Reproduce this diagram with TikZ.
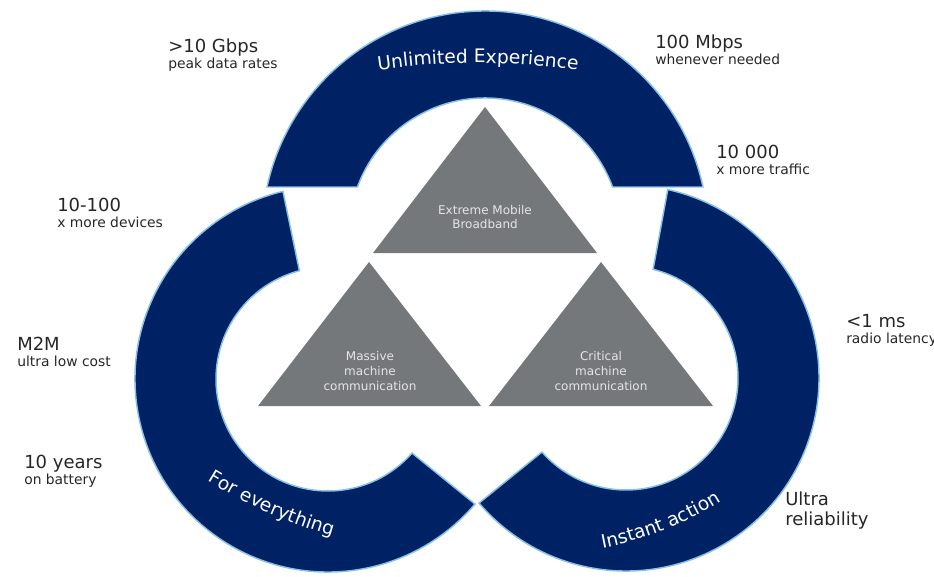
\documentclass[tikz,border=0pt]{standalone}
\usepackage{fontspec}
\setmainfont{DejaVu Sans}
\usetikzlibrary{positioning, decorations.text}

\definecolor{ringblue}{HTML}{002163}
\definecolor{ringedge}{HTML}{86C0E8}
\definecolor{triangrey}{HTML}{75787B}
\definecolor{labelgrey}{HTML}{262626}

\begin{document}
\begin{tikzpicture}[x=0.75pt, y=0.75pt,
  ring/.style={fill=ringblue, draw=ringedge, line width=1.1pt},
  tri/.style={fill=triangrey},
  tritext/.style={text=white!90!black, align=center, inner sep=0pt, font=\fontsize{9}{10.9}\selectfont},
  head/.style={anchor=base west, inner sep=0pt, text=labelgrey, font=\fontsize{13.5}{15}\selectfont},
  sub/.style={anchor=base west, inner sep=0pt, text=labelgrey, font=\fontsize{10.4}{12}\selectfont},
  ringtext/.style={decorate, decoration={text along path, text align=center,
    text={|\fontsize{14}{14}\selectfont\color{white}|#1}}}]

\useasboundingbox (0,0) rectangle (934,576);

% Centres of the three bands
\coordinate (topC) at (485,342);
\coordinate (leftC) at (328,197);
\coordinate (rightC) at (626,198);

% Bands
\path[ring] ([shift={(topC)}]12.17:223) arc[start angle=12.17, end angle=167.83, radius=223]
  -- ([shift={(topC)}]159.78:136) arc[start angle=159.78, end angle=20.22, radius=136] -- cycle;
\path[ring] ([shift={(leftC)}]103.5:193) arc[start angle=103.5, end angle=319.6, radius=193]
  -- ([shift={(leftC)}]318.6:112) arc[start angle=318.6, end angle=104.8, radius=112] -- cycle;
\path[ring] ([shift={(rightC)}]77.5:193) arc[start angle=77.5, end angle=-139.6, radius=193]
  -- ([shift={(rightC)}]-138.6:112) arc[start angle=-138.6, end angle=76, radius=112] -- cycle;

% Band titles
\path[ringtext={Unlimited Experience}] ([shift={(478,-187)}]100:700) arc[start angle=100, end angle=80, radius=700];
\path[ringtext={For everything}] ([shift={(471.4,520.3)}]236:500) arc[start angle=236, end angle=256, radius=500];
\path[ringtext={Instant action}] ([shift={(534.3,375.3)}]277:354) arc[start angle=277, end angle=306, radius=354];

% Triangles
\fill[tri] (485,469) -- (597,323) -- (373,323) -- cycle;
\fill[tri] (369,314) -- (481,170) -- (258,170) -- cycle;
\fill[tri] (601,314) -- (713,170) -- (489,170) -- cycle;

\node[tritext] (embb) at (485,359) {Extreme Mobile\\Broadband};
\node[tritext] (mmtc) at (370,205) {Massive\\machine\\communication};
\node[tritext] (cmtc) at (601,205) {Critical\\machine\\communication};

% Figures round the bands
\node[head] (gbps) at (168,523) {>10 Gbps};
\node[sub] (gbpsSub) at ([yshift=-12pt]gbps.base west) {peak data rates};

\node[head] (devices) at (57,365) {10-100};
\node[sub] (devicesSub) at ([yshift=-12pt]devices.base west) {x more devices};

\node[head] (mtm) at (17,226) {M2M};
\node[sub] (mtmSub) at ([yshift=-12pt]mtm.base west) {ultra low cost};

\node[head] (years) at (24,108) {10 years};
\node[sub] (yearsSub) at ([yshift=-12pt]years.base west) {on battery};

\node[head] (mbps) at (655,527) {100 Mbps};
\node[sub] (mbpsSub) at ([yshift=-12pt]mbps.base west) {whenever needed};

\node[head] (traffic) at (716,418) {10 000};
\node[sub] (trafficSub) at ([yshift=-12pt]traffic.base west) {x more traffic};

\node[head] (latency) at (846,249) {<1 ms};
\node[sub] (latencySub) at ([yshift=-12pt]latency.base west) {radio latency};

\node[head] (ultra) at (785,71) {Ultra};
\node[head] (reliab) at ([yshift=-15pt]ultra.base west) {reliability};

\end{tikzpicture}
\end{document}
